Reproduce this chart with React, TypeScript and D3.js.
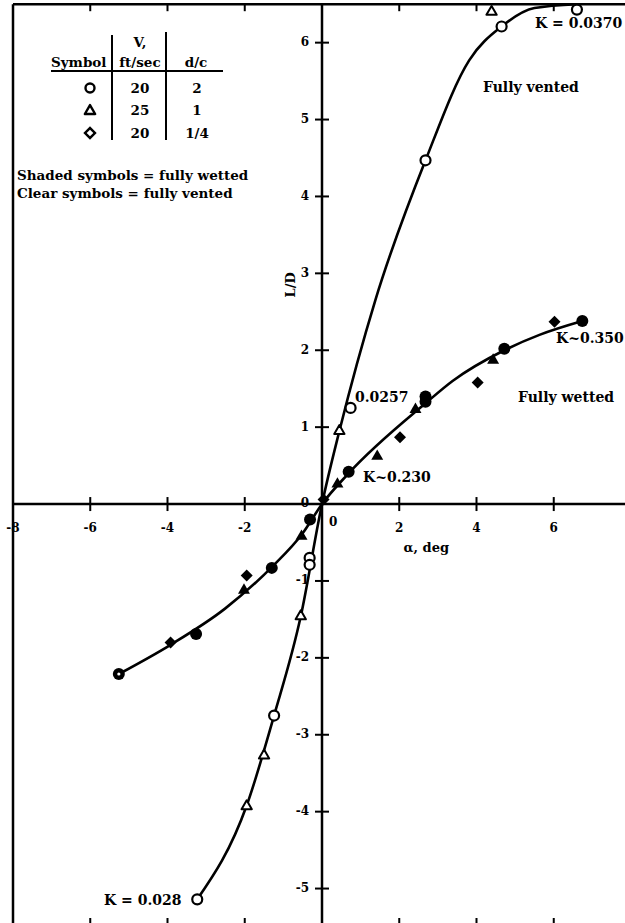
import React from "react";
import * as d3 from "d3";

const W = 625;
const H = 923;

// Axis ticks
const xTicks = [-8, -6, -4, -2, 2, 4, 6];
const frameXTicks = [-6, -4, -2, 2, 4, 6];
const yTicks = [-5, -4, -3, -2, -1, 1, 2, 3, 4, 5, 6];

// Clear symbols = fully vented  [alpha (deg), L/D]
const ventedCircles = [
  [-3.23, -5.14], [-1.24, -2.75], [-0.32, -0.70], [-0.32, -0.79],
  [0.74, 1.25], [2.68, 4.47], [4.65, 6.21], [6.6, 6.43],
];
const ventedTriangles = [
  [-1.95, -3.93], [-1.5, -3.27], [-0.55, -1.46], [0.45, 0.95], [4.39, 6.4],
];

// Shaded symbols = fully wetted
const wettedCircles = [
  [-5.26, -2.21], [-3.26, -1.69], [-1.3, -0.83], [-0.31, -0.2], [0.69, 0.42],
  [2.68, 1.40], [2.68, 1.33], [4.72, 2.02], [6.74, 2.38],
];
const coredCircles = [[-5.26, -2.21]];
const wettedTriangles = [
  [-2.02, -1.12], [-0.53, -0.42], [0.4, 0.26], [1.43, 0.62], [2.42, 1.23], [4.43, 1.87],
];
const wettedDiamonds = [
  [-3.92, -1.8], [-1.95, -0.93], [0.04, 0.06], [2.02, 0.87], [4.03, 1.58], [6.02, 2.37],
];

// Faired curves through the data
const ventedCurve = [
  [-3.23, -5.14], [-1.95, -3.92], [-1.24, -2.75], [-0.55, -1.46],
  [0, 0], [0.45, 0.95], [1.38, 2.65], [2.68, 4.47], [3.81, 5.77],
  [4.65, 6.21], [5.5, 6.45], [6.6, 6.5],
];
const wettedCurve = [
  [-5.26, -2.21], [-3.92, -1.83], [-2.51, -1.36], [-1.3, -0.82], [-0.5, -0.38],
  [0, 0], [0.69, 0.4], [2.68, 1.31], [3.38, 1.6], [4.72, 2.0],
  [5.63, 2.2], [6.74, 2.38],
];

// Legend table
const legendSymbols = ["circle", "triangle", "diamond"];
const legendSpeeds = ["20", "25", "20"];
const legendDc = ["2", "1", "1/4"];

const FONT = "'DejaVu Serif', serif";

export default function App() {
  const x = d3.scaleLinear().domain([-8, 8]).range([13, 631]);
  const y = d3.scaleLinear().domain([-5.5, 6.5]).range([927, 4.2]);

  const line = d3
    .line<number[]>()
    .x((d) => x(d[0]))
    .y((d) => y(d[1]))
    .curve(d3.curveMonotoneX);

  const triOpen = d3.symbol().type(d3.symbolTriangle).size(46)() as string;
  const triFilled = d3.symbol().type(d3.symbolTriangle).size(62)() as string;
  const diamond = d3.symbol().type(d3.symbolSquare).size(72)() as string;
  const legendTri = d3.symbol().type(d3.symbolTriangle).size(46)() as string;
  const legendDiamond = d3.symbol().type(d3.symbolSquare).size(50)() as string;

  const x0 = x(0);
  const y0 = y(0);
  const left = x(-8);
  const top = y(6.5);
  const bottom = y(-5.5);

  const rowY = [88, 110, 133];

  return (
    <svg
      width={W}
      height={H}
      viewBox={`0 0 ${W} ${H}`}
      style={{ position: "absolute", left: 0, top: 0, background: "#fff" }}
      fontFamily={FONT}
      fontWeight="bold"
    >
      <rect x={0} y={0} width={W} height={H} fill="#fff" />

      {/* frame */}
      <line x1={left} x2={W} y1={top} y2={top} stroke="#000" strokeWidth={2.5} />
      <line x1={left} x2={left} y1={top} y2={bottom} stroke="#000" strokeWidth={2.5} />
      <line x1={left} x2={W} y1={bottom} y2={bottom} stroke="#000" strokeWidth={2.5} />
      {frameXTicks.map((t) => (
        <g key={"ft" + t}>
          <line x1={x(t)} x2={x(t)} y1={top} y2={top + 7} stroke="#000" strokeWidth={2} />
          <line x1={x(t)} x2={x(t)} y1={bottom} y2={bottom - 9} stroke="#000" strokeWidth={2} />
        </g>
      ))}

      {/* axes through the origin */}
      <line x1={left} x2={W} y1={y0} y2={y0} stroke="#000" strokeWidth={2.5} />
      <line x1={x0} x2={x0} y1={top} y2={bottom} stroke="#000" strokeWidth={2.5} />

      {xTicks.map((t) => (
        <g key={"xt" + t}>
          <line x1={x(t)} x2={x(t)} y1={y0 - 7} y2={y0 + 7} stroke="#000" strokeWidth={2} />
          <text x={Math.max(x(t), 12)} y={y0 + 24} textAnchor="middle" dominantBaseline="middle" fontSize={12}>
            {t < 0 ? "-" + Math.abs(t) : t}
          </text>
        </g>
      ))}
      <text x={x0 + 7} y={y0 + 18} textAnchor="start" dominantBaseline="middle" fontSize={12}>0</text>

      {yTicks.map((t) => (
        <g key={"yt" + t}>
          <line x1={x0 - 7} x2={x0 + 7} y1={y(t)} y2={y(t)} stroke="#000" strokeWidth={2} />
          <text x={x0 - 13} y={y(t)} textAnchor="end" dominantBaseline="middle" fontSize={12}>
            {t < 0 ? "-" + Math.abs(t) : t}
          </text>
        </g>
      ))}
      <text x={x0 - 13} y={y0 - 1} textAnchor="end" dominantBaseline="middle" fontSize={12}>0</text>

      {/* axis titles */}
      <text
        transform={`translate(${x0 - 31},${y(2.85)}) rotate(-90)`}
        textAnchor="middle"
        dominantBaseline="middle"
        fontSize={13}
      >
        L/D
      </text>
      <text x={x(2.7)} y={y0 + 48} textAnchor="middle" fontSize={13}>
        α, deg
      </text>

      {/* curves */}
      <path d={line(ventedCurve) || ""} fill="none" stroke="#000" strokeWidth={2.6} />
      <path d={line(wettedCurve) || ""} fill="none" stroke="#000" strokeWidth={2.6} />

      {/* fully wetted (shaded) */}
      {wettedDiamonds.map((d, i) => (
        <path key={"wd" + i} d={diamond} transform={`translate(${x(d[0])},${y(d[1])}) rotate(45)`} fill="#000" />
      ))}
      {wettedTriangles.map((d, i) => (
        <path key={"wt" + i} d={triFilled} transform={`translate(${x(d[0])},${y(d[1])})`} fill="#000" />
      ))}
      {wettedCircles.map((d, i) => (
        <circle key={"wc" + i} cx={x(d[0])} cy={y(d[1])} r={6} fill="#000" />
      ))}
      {coredCircles.map((d, i) => (
        <circle key={"cc" + i} cx={x(d[0])} cy={y(d[1])} r={1.6} fill="#fff" />
      ))}

      {/* fully vented (clear) */}
      {ventedTriangles.map((d, i) => (
        <path
          key={"vt" + i}
          d={triOpen}
          transform={`translate(${x(d[0])},${y(d[1])})`}
          fill="#fff"
          stroke="#000"
          strokeWidth={2}
          strokeLinejoin="round"
        />
      ))}
      {ventedCircles.map((d, i) => (
        <circle key={"vc" + i} cx={x(d[0])} cy={y(d[1])} r={5} fill="#fff" stroke="#000" strokeWidth={2.2} />
      ))}

      {/* curve annotations */}
      <g fontSize={14}>
        <text x={535} y={28}>K = 0.0370</text>
        <text x={483} y={92}>Fully vented</text>
        <text x={355} y={402}>0.0257</text>
        <text x={556} y={343}>K~0.350</text>
        <text x={518} y={402}>Fully wetted</text>
        <text x={363} y={482}>K~0.230</text>
        <text x={104} y={905}>K = 0.028</text>
      </g>

      {/* legend table */}
      <g fontSize={13.5}>
        <text x={140} y={47} textAnchor="middle">V,</text>
        <text x={51} y={67}>Symbol</text>
        <text x={140} y={67} textAnchor="middle">ft/sec</text>
        <text x={196} y={67} textAnchor="middle">d/c</text>
        <line x1={51} x2={223} y1={71} y2={71} stroke="#000" strokeWidth={2} />
        <line x1={112} x2={112} y1={35} y2={140} stroke="#000" strokeWidth={2} />
        <line x1={166} x2={166} y1={32} y2={140} stroke="#000" strokeWidth={2} />
        {legendSymbols.map((s, i) => (
          <g key={"lg" + i}>
            {s === "circle" && (
              <circle cx={90} cy={rowY[i]} r={4.5} fill="#fff" stroke="#000" strokeWidth={2.4} />
            )}
            {s === "triangle" && (
              <path d={legendTri} transform={`translate(90,${rowY[i] + 1})`} fill="#fff" stroke="#000" strokeWidth={2.4} strokeLinejoin="round" />
            )}
            {s === "diamond" && (
              <path d={legendDiamond} transform={`translate(90,${rowY[i]}) rotate(45)`} fill="#fff" stroke="#000" strokeWidth={2.4} />
            )}
            <text x={140} y={rowY[i] + 5} textAnchor="middle">{legendSpeeds[i]}</text>
            <text x={197} y={rowY[i] + 5} textAnchor="middle">{legendDc[i]}</text>
          </g>
        ))}
        <text x={17} y={180}>Shaded symbols = fully wetted</text>
        <text x={17} y={198}>Clear symbols = fully vented</text>
      </g>
    </svg>
  );
}
